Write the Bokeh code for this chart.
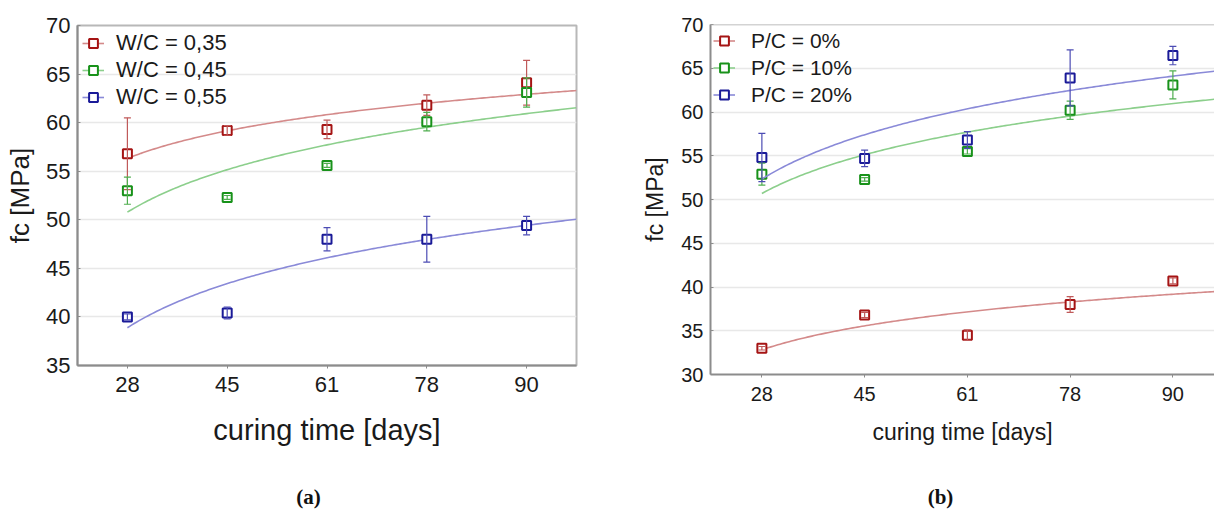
import numpy as np
from bokeh.plotting import figure
from bokeh.models import (ColumnDataSource, Whisker, TeeHead, FixedTicker,
                          Range1d, Legend, LegendItem, Label, Span)
from bokeh.layouts import row, column
from bokeh.embed import file_html
from bokeh.resources import INLINE

# ---------------- data ----------------
days = ["28", "45", "61", "78", "90"]

# panel (a): water/cement ratio
wc_labels = ["W/C = 0,35", "W/C = 0,45", "W/C = 0,55"]
wc035 = [56.8, 59.2, 59.3, 61.8, 64.1]
wc035_err = [3.7, 0.5, 0.95, 1.05, 2.3]
wc045 = [53.0, 52.3, 55.6, 60.1, 63.1]
wc045_err = [1.4, 0.2, 0.2, 0.95, 1.5]
wc055 = [40.0, 40.4, 48.0, 48.0, 49.4]
wc055_err = [0.3, 0.6, 1.2, 2.35, 0.95]
a_yticks = [35, 40, 45, 50, 55, 60, 65, 70]

# panel (b): powder/cement ratio
pc_labels = ["P/C = 0%", "P/C = 10%", "P/C = 20%"]
pc0 = [33.0, 36.8, 34.5, 38.0, 40.7]
pc0_err = [0.2, 0.3, 0.6, 0.9, 0.35]
pc10 = [52.9, 52.3, 55.5, 60.2, 63.1]
pc10_err = [1.25, 0.2, 0.3, 1.05, 1.6]
pc20 = [54.8, 54.7, 56.8, 63.9, 66.45]
pc20_err = [2.75, 0.95, 0.95, 3.2, 1.05]
b_yticks = [30, 35, 40, 45, 50, 55, 60, 65, 70]

captions = ["(a)", "(b)"]

# ---------------- styles ----------------
MARK = ["#a51414", "#18921a", "#1a1a98"]
ERR = ["#c05a5a", "#4fae4f", "#4c4cb4"]
FIT = ["#d48a8a", "#8ccf8c", "#8a8ad8"]
FONT = "Liberation Sans"
AXC = "#8c8c8c"
PLOT_H = 480
CAP_H = 516 - PLOT_H


def make_panel(series, errs, labels, yticks, width, x_end, bl, br, bt, bb,
               tick_fs, xlab_fs, ylab_fs, leg_fs, leg_h, leg_sp, leg_margin, leg_gw,
               leg_st, x_tick_standoff, xlab_standoff, ylab_standoff, outline):
    p = figure(width=width, height=PLOT_H, output_backend="svg", toolbar_location=None,
               x_range=Range1d(0.5, x_end), y_range=Range1d(yticks[0], yticks[-1]),
               min_border_left=bl, min_border_right=br, min_border_top=bt,
               min_border_bottom=bb)
    if outline:
        p.outline_line_color = "#b8b8b8"
        p.outline_line_width = 2
    else:
        p.outline_line_color = None
        p.add_layout(Span(location=yticks[-1], dimension="width",
                          line_color="#a8a8a8", line_width=1.5))
    p.background_fill_color = "white"
    p.border_fill_color = "white"
    p.xgrid.visible = False
    p.ygrid.grid_line_color = "#e8e8e8"
    p.ygrid.grid_line_width = 1.5

    idx = np.arange(1, len(days) + 1)
    x_ticks = list(idx)

    xa = p.xaxis[0]
    xa.ticker = FixedTicker(ticks=x_ticks)
    xa.major_label_overrides = {int(i): d for i, d in zip(idx, days)}
    xa.axis_label = "curing time [days]"
    ya = p.yaxis[0]
    ya.ticker = FixedTicker(ticks=yticks)
    ya.axis_label = "fc [MPa]"
    for ax in (xa, ya):
        ax.axis_line_color = AXC
        ax.axis_line_width = 2
        ax.major_tick_line_color = AXC
        ax.minor_tick_line_color = None
        ax.major_label_text_font = FONT
        ax.major_label_text_font_size = tick_fs
        ax.major_label_text_color = "#1a1a1a"
        ax.axis_label_text_font = FONT
        ax.axis_label_text_font_style = "normal"
        ax.axis_label_text_color = "#1a1a1a"
    xa.major_tick_in = 0
    xa.major_tick_out = 3
    xa.major_label_standoff = x_tick_standoff
    xa.axis_label_text_font_size = xlab_fs
    xa.axis_label_standoff = xlab_standoff
    ya.major_tick_in = 3
    ya.major_tick_out = 0
    ya.major_label_standoff = 7
    ya.axis_label_text_font_size = ylab_fs
    ya.axis_label_standoff = ylab_standoff

    items = []
    xs = np.linspace(1, x_end, 200)
    for k, (vals, err, lab) in enumerate(zip(series, errs, labels)):
        vals = np.array(vals, dtype=float)
        err = np.array(err, dtype=float)
        coef = np.polyfit(np.log(idx), vals, 1)
        fit = coef[0] * np.log(xs) + coef[1]
        lr = p.line(xs, fit, line_color=FIT[k], line_width=1.6)
        src = ColumnDataSource(dict(x=idx, y=vals, upper=vals + err, lower=vals - err))
        wh = Whisker(base="x", upper="upper", lower="lower", source=src,
                     line_color=ERR[k], line_width=1.2, level="glyph",
                     upper_head=TeeHead(size=7, line_color=ERR[k], line_width=1.2),
                     lower_head=TeeHead(size=7, line_color=ERR[k], line_width=1.2))
        p.add_layout(wh)
        sr = p.scatter("x", "y", source=src, marker="square", size=9,
                       line_color=MARK[k], line_width=2, fill_color="white")
        items.append(LegendItem(label=lab, renderers=[lr, sr]))

    leg = Legend(items=items, location="top_left", margin=leg_margin, padding=5,
                 spacing=leg_sp, glyph_width=leg_gw, glyph_height=leg_h,
                 label_height=leg_h, label_standoff=leg_st, label_text_font=FONT,
                 label_text_font_size=leg_fs, label_text_color="#1a1a1a",
                 background_fill_alpha=0, border_line_color=None)
    p.add_layout(leg)
    return p


def make_caption(text, width, bl, br, cx):
    frame_w = width - bl - br
    c = figure(width=width, height=CAP_H, output_backend="svg", toolbar_location=None,
               x_range=Range1d(0, frame_w), y_range=Range1d(0, CAP_H),
               min_border_left=bl, min_border_right=br, min_border_top=0,
               min_border_bottom=0)
    c.axis.visible = False
    c.grid.visible = False
    c.outline_line_color = None
    c.background_fill_color = "white"
    c.border_fill_color = "white"
    c.add_layout(Label(x=cx - bl, y=CAP_H - 16, text=text, text_align="center",
                       text_baseline="middle", text_font="Liberation Serif",
                       text_font_size="21px", text_font_style="bold",
                       text_color="#111111"))
    return c


p1 = make_panel([wc035, wc045, wc055], [wc035_err, wc045_err, wc055_err], wc_labels,
                a_yticks, width=630, x_end=5.5, bl=77, br=54, bt=25, bb=PLOT_H - 365,
                tick_fs="22px", xlab_fs="29px", ylab_fs="26px", leg_fs="22px",
                leg_h=26, leg_sp=1, leg_margin=5, leg_gw=22, leg_st=12,
                x_tick_standoff=8, xlab_standoff=19, ylab_standoff=8, outline=True)

p2 = make_panel([pc0, pc10, pc20], [pc0_err, pc10_err, pc20_err], pc_labels,
                b_yticks, width=584, x_end=5.405, bl=80, br=0, bt=24, bb=PLOT_H - 374,
                tick_fs="20px", xlab_fs="23px", ylab_fs="23px", leg_fs="21px",
                leg_h=27, leg_sp=0, leg_margin=3, leg_gw=22, leg_st=16,
                x_tick_standoff=9, xlab_standoff=15, ylab_standoff=10, outline=False)

c1 = make_caption(captions[0], 630, 77, 54, 308)
c2 = make_caption(captions[1], 584, 80, 0, 940 - 630)

layout = row(column(p1, c1), column(p2, c2))
open("out.html", "w").write(file_html(layout, INLINE))
